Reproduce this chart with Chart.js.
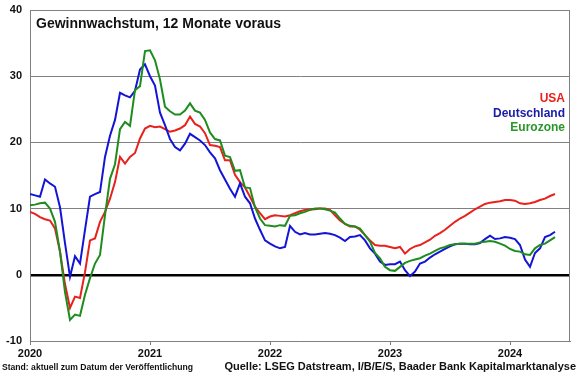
<!DOCTYPE html>
<html>
<head>
<meta charset="utf-8">
<script src="https://cdn.jsdelivr.net/npm/chart.js@4"></script>
<style>
  html, body { margin: 0; padding: 0; background: #fff; }
  #box { width: 580px; height: 375px; }
</style>
</head>
<body>
<div id="box"><canvas id="chart" width="580" height="375"></canvas></div>
<script>
// half-monthly observations, Jan 2020 - May 2024
const dates = Array.from({ length: 106 }, (_, i) => 2020 + i / 24);
const yearTicks = [2020, 2021, 2022, 2023, 2024];

const usa = [
  9.5, 9.2, 8.7, 8.4, 8.2, 7.0, 3.5, -1.4, -5.0, -3.3,
  -3.5, 0.4, 5.2, 5.5, 8.0, 9.5, 11.5, 14.0, 17.8, 16.8,
  17.8, 18.4, 20.6, 22.1, 22.5, 22.3, 22.4, 22.0, 21.6, 21.8,
  22.1, 22.6, 23.9, 22.8, 22.4, 21.4, 19.6, 19.5, 19.3, 17.3,
  17.3, 15.1, 14.0, 13.2, 11.8, 10.3, 9.3, 8.4, 8.8, 9.0,
  8.9, 8.8, 9.0, 9.3, 9.6, 9.8, 9.9, 9.9, 10.0, 10.0,
  9.8, 9.0, 8.2, 7.7, 7.3, 7.3, 6.8, 6.0, 5.2, 4.5,
  4.4, 4.4, 4.2, 4.0, 4.2, 3.2, 3.9, 4.3, 4.5, 4.9,
  5.3, 5.9, 6.3, 6.8, 7.4, 8.0, 8.5, 8.9, 9.4, 9.9,
  10.3, 10.7, 10.9, 11.0, 11.1, 11.3, 11.3, 11.2, 10.8, 10.7,
  10.8, 11.0, 11.3, 11.5, 11.9, 12.2
];
const deutschland = [
  12.2, 12.0, 11.8, 14.4, 13.8, 13.3, 10.2, 4.8, -0.3, 2.8,
  1.7, 6.8, 11.8, 12.2, 12.5, 17.8, 21.0, 23.4, 27.5, 27.1,
  26.8, 27.8, 31.0, 31.8, 30.0, 28.6, 24.5, 22.6, 20.5, 19.3,
  18.8, 19.8, 21.3, 20.8, 20.3, 19.6, 18.5, 17.6, 15.8, 14.4,
  13.0, 11.8, 13.8, 11.8, 10.8, 8.5, 6.8, 5.2, 4.7, 4.3,
  4.0, 4.2, 7.4, 6.5, 6.1, 6.3, 6.1, 6.1, 6.2, 6.3,
  6.2, 6.0, 5.6, 5.1, 5.7, 5.8, 6.0, 5.2, 4.0, 3.2,
  2.0, 1.5, 1.6, 1.6, 2.0, 0.7, -0.2, 0.5, 1.7, 2.0,
  2.6, 3.1, 3.5, 3.9, 4.3, 4.6, 4.7, 4.7, 4.6, 4.6,
  4.8, 5.4, 5.9, 5.4, 5.5, 5.7, 5.6, 5.4, 4.5, 2.3,
  1.2, 3.3, 4.0, 5.7, 6.0, 6.5
];
const eurozone = [
  10.5, 10.6, 10.8, 10.9, 10.0, 8.0, 3.5, -2.6, -6.8, -6.0,
  -6.2, -3.0, -0.5, 1.7, 3.0, 9.0, 14.5, 16.7, 22.0, 23.1,
  22.5, 27.9, 28.5, 33.8, 33.9, 32.4, 29.5, 25.4, 24.7, 24.2,
  24.2, 24.8, 25.9, 24.8, 24.5, 23.4, 21.5, 20.5, 20.3, 18.0,
  17.8, 15.7, 15.8, 13.2, 13.1, 10.2, 8.5, 7.5, 7.4, 7.3,
  7.5, 7.4, 8.9, 9.0, 9.3, 9.5, 9.8, 10.0, 10.0, 9.9,
  9.7, 9.4, 8.5, 7.7, 7.4, 7.3, 7.0, 6.0, 5.0, 3.3,
  2.5, 1.2, 0.7, 0.6, 1.2, 1.8, 2.1, 2.3, 2.5, 2.9,
  3.2, 3.6, 4.0, 4.2, 4.5, 4.6, 4.7, 4.7, 4.7, 4.7,
  4.9, 5.0, 5.1, 5.0, 4.7, 4.4, 3.9, 3.6, 3.5, 3.1,
  3.0, 4.0, 4.5, 4.7, 5.2, 5.7
];

const FONT = "'Liberation Sans', Arial, sans-serif";
const RED = "#e8211c";
const BLUE = "#1414d6";
const GREEN = "#1f8c1f";
const GRID = "#808080";

const toPoints = (vals) => vals.map((v, i) => ({ x: dates[i], y: v }));

// title, legend text, frame and source lines
const decorations = {
  id: "decorations",
  afterDatasetsDraw(chart) {
    const { ctx, chartArea: a } = chart;
    ctx.save();
    ctx.strokeStyle = GRID;
    ctx.lineWidth = 1;
    ctx.beginPath();
    ctx.moveTo(a.left, a.top + 0.5);
    ctx.lineTo(a.right - 0.5, a.top + 0.5);
    ctx.lineTo(a.right - 0.5, a.bottom);
    ctx.stroke();

    ctx.textBaseline = "middle";
    ctx.fillStyle = "#111";
    ctx.textAlign = "left";
    ctx.font = "bold 14px " + FONT;
    ctx.fillText("Gewinnwachstum, 12 Monate voraus", a.left + 6, 24);

    ctx.textAlign = "right";
    ctx.font = "bold 12px " + FONT;
    ctx.fillStyle = RED;
    ctx.fillText("USA", a.right - 5, 99);
    ctx.fillStyle = "#1a1aa8";
    ctx.fillText("Deutschland", a.right - 5, 114);
    ctx.fillStyle = "#2a962a";
    ctx.fillText("Eurozone", a.right - 5, 128);

    ctx.fillStyle = "#111";
    ctx.font = "bold 11px " + FONT;
    ctx.fillText("Quelle: LSEG Datstream, I/B/E/S, Baader Bank Kapitalmarktanalyse", 576, 367);
    ctx.textAlign = "left";
    ctx.font = "bold 8.6px " + FONT;
    ctx.fillText("Stand: aktuell zum Datum der Veröffentlichung", 2, 368);
    ctx.restore();
  }
};

new Chart(document.getElementById("chart"), {
  type: "line",
  plugins: [decorations],
  data: {
    datasets: [
      { label: "Eurozone", data: toPoints(eurozone), borderColor: GREEN },
      { label: "Deutschland", data: toPoints(deutschland), borderColor: BLUE },
      { label: "USA", data: toPoints(usa), borderColor: RED },
    ],
  },
  options: {
    responsive: false,
    animation: false,
    layout: { padding: { top: 10, right: 10, left: 0, bottom: 0 } },
    elements: {
      line: { borderWidth: 2, tension: 0 },
      point: { radius: 0 },
    },
    plugins: {
      legend: { display: false },
      tooltip: { enabled: false },
    },
    scales: {
      x: {
        type: "linear",
        min: 2020,
        max: 2024.5,
        afterFit: (s) => { s.height = 34; s.paddingLeft = 0; s.paddingRight = 0; },
        afterBuildTicks: (s) => { s.ticks = yearTicks.map((v) => ({ value: v })); },
        grid: { drawOnChartArea: false, drawTicks: true, tickLength: 4, color: GRID },
        border: { color: GRID },
        ticks: {
          color: "#111",
          padding: 2,
          maxRotation: 0,
          font: { family: FONT, size: 11, weight: "bold" },
          callback: (v) => String(v),
        },
      },
      y: {
        min: -10,
        max: 40,
        afterFit: (s) => { s.width = 30; s.paddingTop = 0; s.paddingBottom = 0; },
        grid: {
          drawTicks: false,
          color: (c) => (c.tick && c.tick.value === 0 ? "#000" : GRID),
          lineWidth: (c) => (c.tick && c.tick.value === 0 ? 2.5 : 1),
        },
        border: { color: GRID },
        ticks: {
          stepSize: 10,
          color: "#111",
          padding: 8,
          font: { family: FONT, size: 11, weight: "bold" },
        },
      },
    },
  },
});
</script>
</body>
</html>
